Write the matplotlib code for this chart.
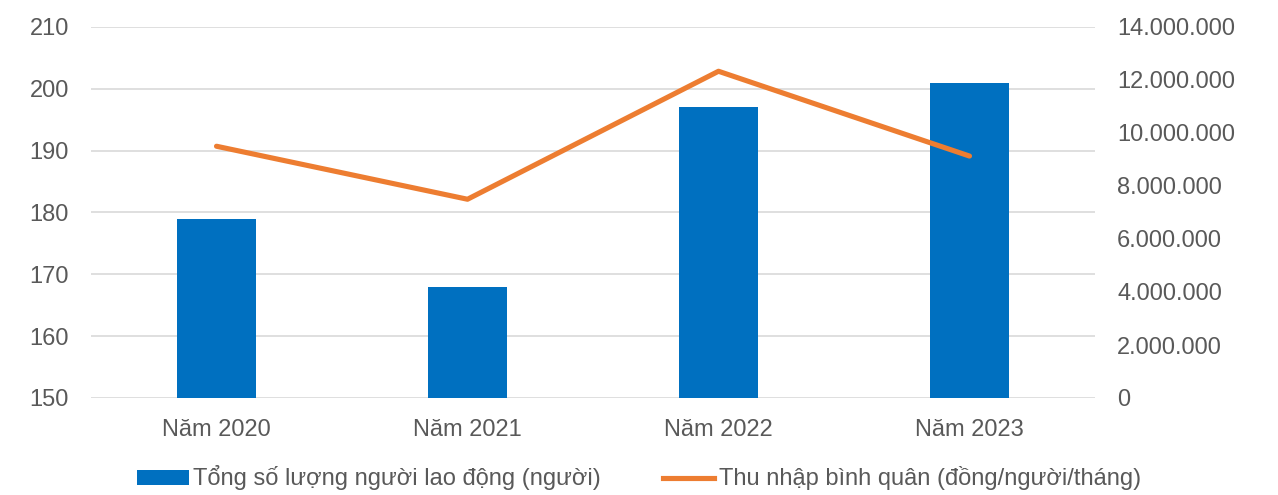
import matplotlib
matplotlib.use("Agg")
import matplotlib.pyplot as plt
from matplotlib.ticker import FuncFormatter, MultipleLocator
from matplotlib.patches import Patch
from matplotlib.lines import Line2D

plt.rcParams['font.family'] = ['Liberation Sans', 'DejaVu Sans']

years = ["Năm 2020", "Năm 2021", "Năm 2022", "Năm 2023"]
workers = [179, 168, 197, 201]
avg_income = [9500000, 7500000, 12330000, 9130000]

bar_label = "Tổng số lượng người lao động (người)"
line_label = "Thu nhập bình quân (đồng/người/tháng)"

text_color = "#595959"
grid_color = "#d9d9d9"
bar_color = "#0070C0"
line_color = "#ED7D31"
fs = 17

fig = plt.figure(figsize=(12.78, 4.95), dpi=100)
ax = fig.add_axes([91 / 1278, 1 - 398 / 495, (1095 - 91) / 1278, (398 - 27) / 495])
ax2 = ax.twinx()

x = list(range(len(years)))
ax.bar(x, [w - 150 for w in workers], bottom=150, width=0.315, color=bar_color, zorder=2)
ax.set_ylim(150, 210)
ax.yaxis.set_major_locator(MultipleLocator(10))
ax.set_xlim(-0.5, len(years) - 0.5)
ax.set_xticks(x)
ax.set_xticklabels(years)
ax.grid(axis='y', color=grid_color, linewidth=1.2, zorder=0)
ax.set_axisbelow(True)

ax2.plot(x, avg_income, color=line_color, linewidth=3.7,
         solid_capstyle='round', solid_joinstyle='round', zorder=3)
ax2.set_ylim(0, 14000000)
ax2.yaxis.set_major_locator(MultipleLocator(2000000))
ax2.yaxis.set_major_formatter(FuncFormatter(lambda v, p: f"{int(v):,}".replace(",", ".")))

for a in (ax, ax2):
    for s in a.spines.values():
        s.set_visible(False)
    a.tick_params(length=0, labelsize=fs, colors=text_color)
ax.tick_params(axis='y', pad=16)
ax2.tick_params(axis='y', pad=16)
ax.tick_params(axis='x', pad=15)

handles = [Patch(facecolor=bar_color, edgecolor='none'),
           Line2D([0], [0], color=line_color, linewidth=3.7)]
leg = fig.legend(handles, [bar_label, line_label], loc='center',
                 bbox_to_anchor=(0.5, 1 - 478 / 495), ncol=2, frameon=False,
                 fontsize=fs, handlelength=2.2, handleheight=0.6, handletextpad=0.2,
                 columnspacing=2.6, labelcolor=text_color)

fig.savefig("out.png", dpi=100)
